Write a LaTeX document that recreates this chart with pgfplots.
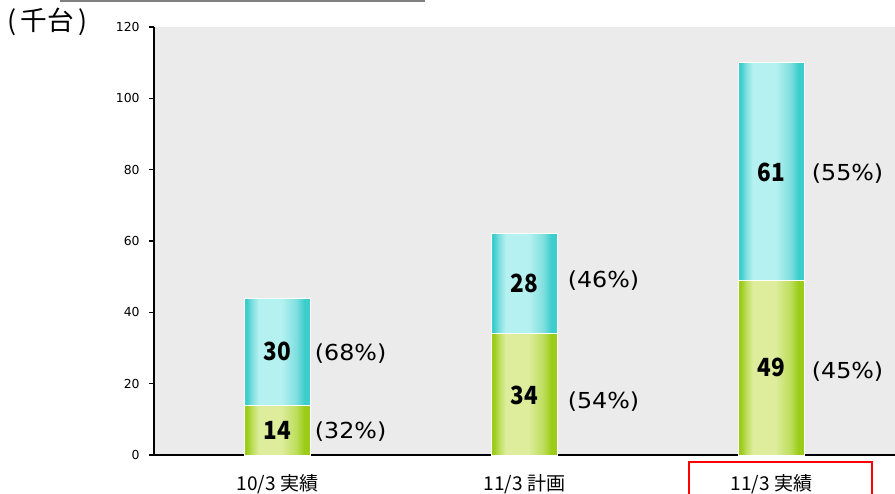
\documentclass[border=0pt]{standalone}
\usepackage{pgfplots}
\pgfplotsset{compat=1.18}
\usepackage{graphicx}
\usepackage{fontspec}
\setmainfont{Noto Sans CJK JP}
\newfontfamily\dv{DejaVu Sans}
\definecolor{bgc}{RGB}{235,235,235}
\definecolor{cE}{RGB}{62,205,205}
\definecolor{cM}{RGB}{128,223,223}
\definecolor{cL}{RGB}{182,241,241}
\definecolor{gE}{RGB}{155,204,25}
\definecolor{gM}{RGB}{190,222,92}
\definecolor{gL}{RGB}{221,237,156}
\pgfdeclarehorizontalshading{cyanbar}{100bp}{color(0bp)=(cE); color(25bp)=(cE); color(27bp)=(cE); color(31bp)=(cM); color(36bp)=(cL); color(53bp)=(cL); color(64bp)=(cM); color(70bp)=(cE); color(75bp)=(cE); color(100bp)=(cE)}
\pgfdeclarehorizontalshading{greenbar}{100bp}{color(0bp)=(gE); color(25bp)=(gE); color(27bp)=(gE); color(31bp)=(gM); color(36bp)=(gL); color(53bp)=(gL); color(64bp)=(gM); color(70bp)=(gE); color(75bp)=(gE); color(100bp)=(gE)}
\newcommand\val[1]{\scalebox{0.9}[1]{#1}}
\newcommand\pct[1]{\scalebox{1.08}[1]{#1}}
\begin{document}
\begin{tikzpicture}
\path[use as bounding box] (0,0) rectangle (671.25pt,369.75pt);
\draw[line width=2.25pt, color={rgb,255:red,127;green,127;blue,127}] (45pt,369pt) -- (318.75pt,369pt);
\node[font=\fontsize{20}{20}\selectfont] at (35.5pt,353.25pt) {(\,千台\,)};
\begin{axis}[
  at={(115.5pt,28.5pt)}, anchor=south west,
  width=555.75pt, height=321pt, scale only axis,
  xmin=-0.5, xmax=2.5, ymin=0, ymax=120,
  axis background/.style={fill=bgc},
  axis x line*=bottom, axis y line*=left,
  axis line style={line width=1.1pt, black},
  ytick={0,20,...,120},
  xtick={0,1,2}, xticklabels={10/3 実績,11/3 計画,11/3 実績},
  x tick style={draw=none},
  y tick style={black, line width=0.8pt},
  tick align=outside,
  major tick length=3.75pt,
  extra x ticks={0.5,1.5}, extra x tick labels={},
  extra x tick style={tick align=inside, major tick length=4.5pt, tick style={draw=black, line width=0.8pt}},
  yticklabel style={font=\dv\fontsize{9.3}{9.3}\selectfont, xshift=-3.5pt},
  xticklabel style={font=\fontsize{14.3}{14.3}\selectfont, anchor=base, yshift=-22.8pt},
  /pgf/number format/assume math mode=true,
  clip=false,
  bar width=0.27, bar shift=0pt,
]
\addplot[ybar, draw=white, line width=0.6pt, shading=cyanbar] coordinates {(0,44)};
\addplot[ybar, draw=white, line width=0.6pt, shading=greenbar] coordinates {(0,14)};
\addplot[ybar, draw=white, line width=0.6pt, shading=cyanbar] coordinates {(1,62)};
\addplot[ybar, draw=white, line width=0.6pt, shading=greenbar] coordinates {(1,34)};
\addplot[ybar, draw=white, line width=0.6pt, shading=cyanbar] coordinates {(2,110)};
\addplot[ybar, draw=white, line width=0.6pt, shading=greenbar] coordinates {(2,49)};
\begin{scope}[every node/.style={font=\bfseries\fontsize{18.75}{18.75}\selectfont}]
\node at (axis cs:0,7) {\val{14}};
\node at (axis cs:0,29) {\val{30}};
\node at (axis cs:1,16.8) {\val{34}};
\node at (axis cs:1,48) {\val{28}};
\node at (axis cs:2,24.6) {\val{49}};
\node at (axis cs:2,79.3) {\val{61}};
\end{scope}
\begin{scope}[every node/.style={font=\dv\fontsize{16.5}{16.5}\selectfont}]
\node at (axis cs:0.296,6.7) {\pct{(32\%)}};
\node at (axis cs:0.296,28.3) {\pct{(68\%)}};
\node at (axis cs:1.32,14.9) {\pct{(54\%)}};
\node at (axis cs:1.32,48.8) {\pct{(46\%)}};
\node at (axis cs:2.308,23.5) {\pct{(45\%)}};
\node at (axis cs:2.308,78.8) {\pct{(55\%)}};
\end{scope}
\end{axis}
\draw[red, line width=1.5pt] (516.75pt,-5pt) rectangle (654pt,23.25pt);
\end{tikzpicture}
\end{document}
